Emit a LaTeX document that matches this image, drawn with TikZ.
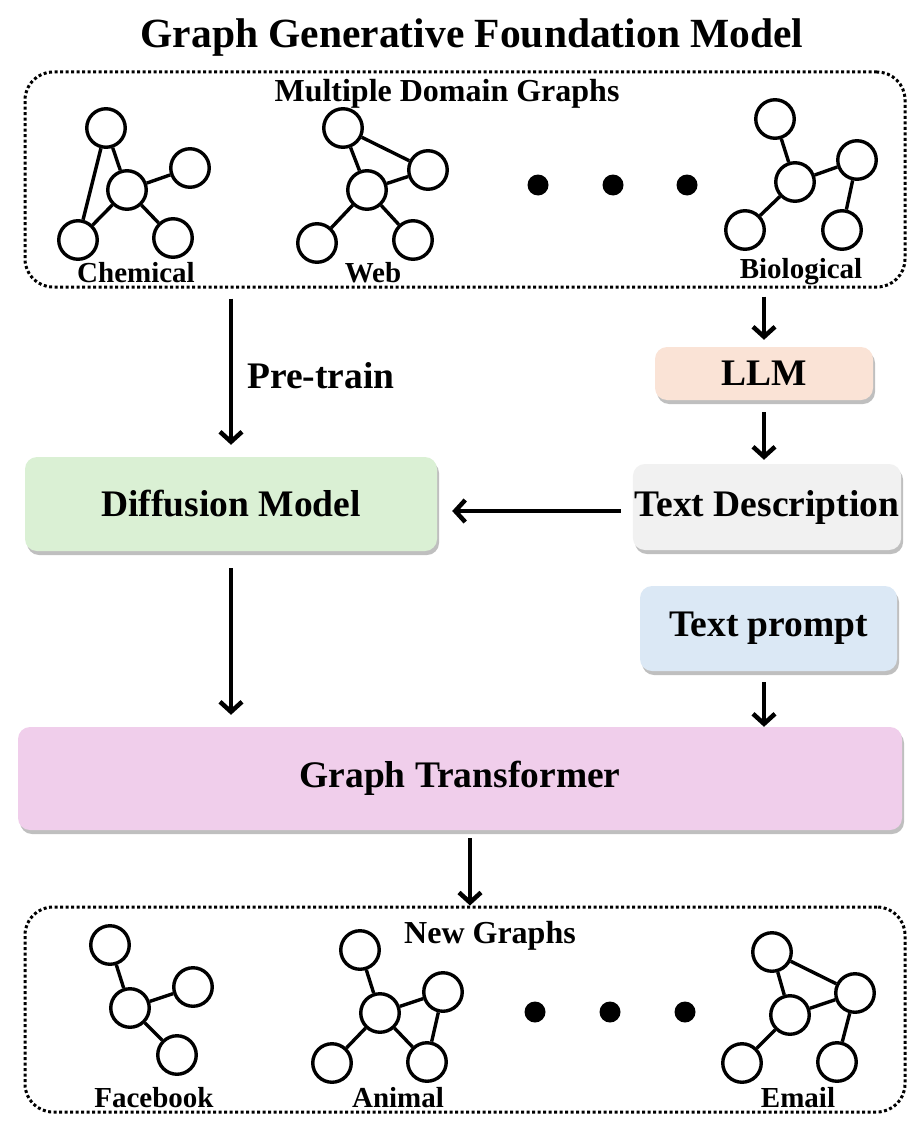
\documentclass[tikz,border=0pt]{standalone}
\usepackage{fontspec}
\setmainfont{Liberation Serif}
\usetikzlibrary{positioning,shadows,arrows.meta}

\definecolor{llmfill}{RGB}{250,227,214}
\definecolor{tdfill}{RGB}{241,241,241}
\definecolor{dmfill}{RGB}{218,240,212}
\definecolor{tpfill}{RGB}{219,232,245}
\definecolor{gtfill}{RGB}{240,206,235}

\begin{document}
\begin{tikzpicture}[x=1pt,y=-1pt,
    gnode/.style={draw, circle, line width=3.4pt, minimum size=38.5pt, inner sep=0pt},
    lnk/.style={line width=3.4pt},
    blk/.style={rounded corners=12pt, inner sep=2pt, font=\fontsize{37.5}{40}\selectfont\bfseries, drop shadow={shadow xshift=2pt, shadow yshift=-4pt, fill=black!50, opacity=.5}},
    grp/.style={draw, line width=3pt, dash pattern=on 3pt off 2.5pt, rounded corners=28pt, inner sep=0pt},
    lbl/.style={font=\fontsize{29}{30}\selectfont\bfseries, inner sep=0pt, anchor=base},
    arr/.style={line width=4.5pt, -{Straight Barb[length=10pt,width=22pt]}},
    bigdot/.style={circle, fill, minimum size=21pt, inner sep=0pt}]

    \useasboundingbox (0,0) rectangle (916,1129);

    \node[font=\fontsize{41.5}{46}\selectfont\bfseries, anchor=base, inner sep=0pt] (ttl) at (472,48) {Graph Generative Foundation Model};

    % source graphs
    \node[grp, minimum width=880pt, minimum height=215pt] (src) at (465,179.5) {};
    \node[lbl, font=\fontsize{32}{34}\selectfont\bfseries] (srct) at (447,102) {Multiple Domain Graphs};

    \node[gnode] (c1) at (106,128) {};
    \node[gnode] (c2) at (127,190) {};
    \node[gnode] (c3) at (190,168) {};
    \node[gnode] (c4) at (78,240) {};
    \node[gnode] (c5) at (173,238) {};
    \draw[lnk] (c1) -- (c2) (c1) -- (c4) (c2) -- (c3) (c2) -- (c4) (c2) -- (c5);
    \node[lbl] (ct) at (136,282) {Chemical};

    \node[gnode] (w1) at (343,128) {};
    \node[gnode] (w2) at (367,190) {};
    \node[gnode] (w3) at (428,170) {};
    \node[gnode] (w4) at (317,243) {};
    \node[gnode] (w5) at (413,240) {};
    \draw[lnk] (w1) -- (w2) (w1) -- (w3) (w2) -- (w3) (w2) -- (w4) (w2) -- (w5);
    \node[lbl] (wt) at (373,282) {Web};

    \node[bigdot] (d1) at (538,185) {};
    \node[bigdot] (d2) at (613,185) {};
    \node[bigdot] (d3) at (687,185) {};

    \node[gnode] (b1) at (775,119) {};
    \node[gnode] (b2) at (795,182) {};
    \node[gnode] (b3) at (857,160) {};
    \node[gnode] (b4) at (745,230) {};
    \node[gnode] (b5) at (842,230) {};
    \draw[lnk] (b1) -- (b2) (b2) -- (b3) (b3) -- (b5) (b2) -- (b4);
    \node[lbl] (bt) at (801,278) {Biological};

    % model blocks
    \node[blk, fill=llmfill, minimum width=218pt, minimum height=53pt] (llm) at (764,373.5) {LLM};
    \node[blk, fill=tdfill, minimum width=266pt, minimum height=86pt] (td) at (767,507) {Text Description};
    \node[blk, fill=dmfill, minimum width=412pt, minimum height=94pt] (dm) at (231,504) {Diffusion Model};
    \node[blk, fill=tpfill, minimum width=257pt, minimum height=85pt] (tp) at (768.5,628.5) {Text prompt};
    \node[blk, fill=gtfill, minimum width=884pt, minimum height=103pt] (gt) at (460,778.5) {Graph Transformer};

    \draw[arr, shorten <=10pt, shorten >=12pt] (src.south -| dm) -- (dm);
    \node[lbl, font=\fontsize{37.5}{40}\selectfont\bfseries, anchor=base west] (pt) at (247,388) {Pre-train};
    \draw[arr, shorten <=8pt, shorten >=7pt] (src.south -| llm) -- (llm);
    \draw[arr, shorten <=12pt, shorten >=4pt] (llm) -- (llm |- td.north);
    \draw[arr, shorten <=12pt, shorten >=15pt] (td.west |- 0,511) -- (dm.east |- 0,511);
    \draw[arr, shorten <=17pt, shorten >=12pt] (dm) -- (dm |- gt.north);
    \draw[arr, shorten <=11pt] (tp.south -| llm) -- (gt.north -| llm);

    % new graphs
    \node[grp, minimum width=880pt, minimum height=205pt] (out) at (465,1009.5) {};
    \draw[arr, shorten <=8pt] (gt.south -| 470,0) -- (out.north -| 470,0);
    \node[lbl, font=\fontsize{32}{34}\selectfont\bfseries] (outt) at (490,943) {New Graphs};

    \node[gnode] (f1) at (110,945) {};
    \node[gnode] (f2) at (130,1008) {};
    \node[gnode] (f3) at (193,987) {};
    \node[gnode] (f4) at (177,1055) {};
    \draw[lnk] (f1) -- (f2) (f2) -- (f3) (f2) -- (f4);
    \node[lbl] (ft) at (154,1107) {Facebook};

    \node[gnode] (a1) at (360,950) {};
    \node[gnode] (a2) at (380,1013) {};
    \node[gnode] (a3) at (443,992) {};
    \node[gnode] (a4) at (332,1063) {};
    \node[gnode] (a5) at (427,1062) {};
    \draw[lnk] (a1) -- (a2) (a2) -- (a3) (a3) -- (a5) (a2) -- (a4) (a2) -- (a5);
    \node[lbl] (at) at (398,1107) {Animal};

    \node[bigdot] (d4) at (535,1012) {};
    \node[bigdot] (d5) at (610,1012) {};
    \node[bigdot] (d6) at (685,1012) {};

    \node[gnode] (e1) at (772,952) {};
    \node[gnode] (e2) at (790,1015) {};
    \node[gnode] (e3) at (855,993) {};
    \node[gnode] (e4) at (742,1063) {};
    \node[gnode] (e5) at (837,1062) {};
    \draw[lnk] (e1) -- (e2) (e1) -- (e3) (e2) -- (e3) (e2) -- (e4) (e3) -- (e5);
    \node[lbl] (et) at (798,1107) {Email};
\end{tikzpicture}
\end{document}
